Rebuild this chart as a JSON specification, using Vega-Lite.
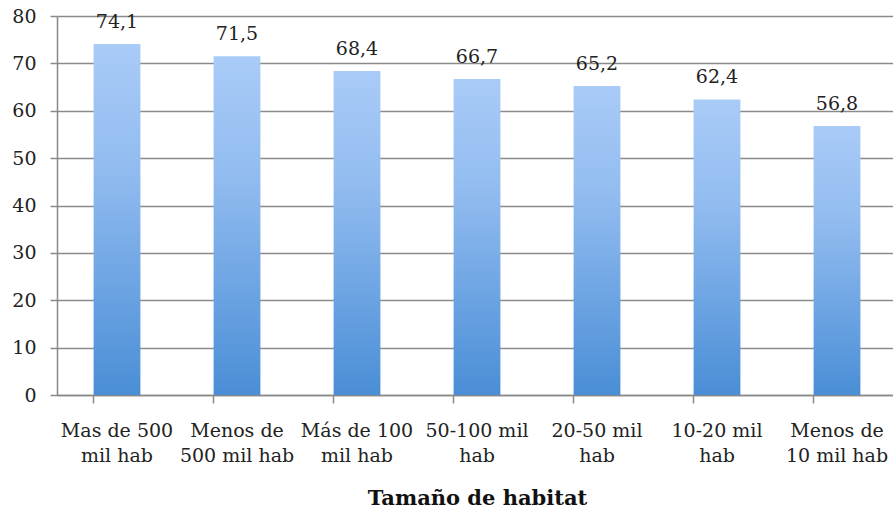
{
  "$schema": "https://vega.github.io/schema/vega-lite/v6.json",
  "width": 840,
  "height": 379,
  "autosize": {"type": "none"},
  "padding": {"left": 57, "top": 16, "right": 0, "bottom": 115},
  "background": "white",
  "config": {
    "view": {"stroke": null},
    "font": "DejaVu Serif",
    "locale": {
      "number": {"decimal": ",", "thousands": ".", "grouping": [3], "currency": ["", " €"]}
    }
  },
  "data": {
    "values": [
      {"tamano": "Mas de 500 mil hab", "porcentaje": 74.1},
      {"tamano": "Menos de 500 mil hab", "porcentaje": 71.5},
      {"tamano": "Más de 100 mil hab", "porcentaje": 68.4},
      {"tamano": "50-100 mil hab", "porcentaje": 66.7},
      {"tamano": "20-50 mil hab", "porcentaje": 65.2},
      {"tamano": "10-20 mil hab", "porcentaje": 62.4},
      {"tamano": "Menos de 10 mil hab", "porcentaje": 56.8}
    ]
  },
  "encoding": {
    "x": {
      "field": "tamano",
      "type": "nominal",
      "sort": null,
      "scale": {"paddingInner": 0.61, "paddingOuter": 0.305},
      "axis": {
        "title": "Tamaño de habitat",
        "titleFont": "DejaVu Serif",
        "titleFontSize": 21,
        "titleFontWeight": "bold",
        "titleColor": "#111",
        "titlePadding": 22,
        "labelAngle": 0,
        "labelFontSize": 19,
        "labelColor": "#222",
        "labelPadding": 18,
        "labelLineHeight": 25,
        "labelLimit": 200,
        "labelExpr": "{'Mas de 500 mil hab': ['Mas de 500', 'mil hab'], 'Menos de 500 mil hab': ['Menos de', '500 mil hab'], 'Más de 100 mil hab': ['Más de 100', 'mil hab'], '50-100 mil hab': ['50-100 mil', 'hab'], '20-50 mil hab': ['20-50 mil', 'hab'], '10-20 mil hab': ['10-20 mil', 'hab'], 'Menos de 10 mil hab': ['Menos de', '10 mil hab']}[datum.value]",
        "bandPosition": 0,
        "tickSize": 8,
        "tickColor": "#888",
        "tickWidth": 1.5,
        "domainColor": "#888",
        "domainWidth": 1.5,
        "grid": false
      }
    },
    "y": {
      "field": "porcentaje",
      "type": "quantitative",
      "scale": {"domain": [0, 80], "nice": false},
      "axis": {
        "title": null,
        "values": [0, 10, 20, 30, 40, 50, 60, 70, 80],
        "labelFontSize": 19,
        "labelColor": "#222",
        "labelPadding": 14,
        "tickSize": 7,
        "tickColor": "#888",
        "tickWidth": 1.5,
        "domainColor": "#888",
        "domainWidth": 1.5,
        "gridColor": "#8a8a8a",
        "gridWidth": 1.5
      }
    }
  },
  "layer": [
    {
      "mark": {
        "type": "bar",
        "color": {
          "gradient": "linear",
          "x1": 0, "y1": 0, "x2": 0, "y2": 1,
          "stops": [
            {"offset": 0, "color": "#a9cbf7"},
            {"offset": 0.35, "color": "#92bcf0"},
            {"offset": 1, "color": "#4a8ed6"}
          ]
        }
      }
    },
    {
      "mark": {
        "type": "text",
        "baseline": "bottom",
        "dy": -12,
        "fontSize": 19,
        "color": "#222"
      },
      "encoding": {
        "text": {"field": "porcentaje", "type": "quantitative", "format": ".1f"}
      }
    }
  ]
}
